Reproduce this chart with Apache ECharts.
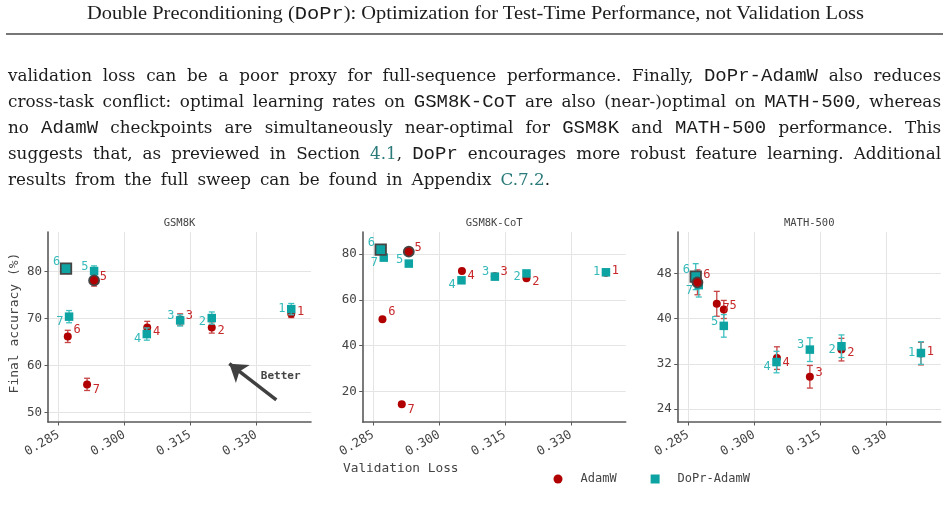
<!DOCTYPE html>
<html>
<head>
<meta charset="utf-8">
<script src="https://cdn.jsdelivr.net/npm/echarts@6/dist/echarts.min.js"></script>
<style>
  html, body { margin: 0; padding: 0; background: #fff; }
  body { width: 949px; height: 512px; position: relative; overflow: hidden; }
  #chart { position: absolute; left: 0; top: 0; width: 949px; height: 512px; }
  .txt { position: absolute; font-family: 'DejaVu Serif', serif; color: #1c1c1c; white-space: nowrap; transform-origin: 0 0; }
  .tt { font-family: 'Liberation Mono', monospace; letter-spacing: 0; }
  .ref { color: #2b7a7a; }
  #head { top: 3px; left: 87px; font-family: 'Liberation Serif', serif; font-size: 18px; line-height: 20px; }
  #rule { position: absolute; left: 6px; top: 33px; width: 937px; height: 1.5px; background: #777; }
  .ln { left: 8px; font-size: 16.8px; line-height: 26px; }
  .ln .tt { font-size: 19px; }
</style>
</head>
<body>
<div id="chart"></div>
<div class="txt" id="head">Double Preconditioning (<span class="tt">DoPr</span>): Optimization for Test-Time Performance, not Validation Loss</div>
<div id="rule"></div>
<div class="txt ln" style="top:62px" data-w="933">validation loss can be a poor proxy for full-sequence performance. Finally, <span class="tt">DoPr-AdamW</span> also reduces</div>
<div class="txt ln" style="top:88px" data-w="933">cross-task conflict: optimal learning rates on <span class="tt">GSM8K-CoT</span> are also (near-)optimal on <span class="tt">MATH-500</span>, whereas</div>
<div class="txt ln" style="top:114px" data-w="933">no <span class="tt">AdamW</span> checkpoints are simultaneously near-optimal for <span class="tt">GSM8K</span> and <span class="tt">MATH-500</span> performance. This</div>
<div class="txt ln" style="top:140px" data-w="933">suggests that, as previewed in Section <span class="ref">4.1</span>, <span class="tt">DoPr</span> encourages more robust feature learning. Additional</div>
<div class="txt ln" style="top:166px" data-w="542">results from the full sweep can be found in Appendix <span class="ref">C.7.2</span>.</div>

<script>
// checkpoint ids (learning-rate sweep points)
const checkpoints = ['1', '2', '3', '4', '5', '6', '7'];

// validation loss per checkpoint (x)
const lossAdamW = [0.3380, 0.3199, 0.3127, 0.3052, 0.2931, 0.2871, 0.2915];
const lossDoPr = [0.3380, 0.3199, 0.3127, 0.3051, 0.2931, 0.2867, 0.2874];

// GSM8K
const gsm8kAdamW = [71.0, 68.1, 69.8, 68.1, 78.1, 66.2, 56.0];
const gsm8kAdamWErr = [0.8, 1.2, 1.2, 1.3, 1.2, 1.3, 1.3];
const gsm8kDoPr = [72.0, 70.1, 69.6, 66.7, 80.1, 80.6, 70.4];
const gsm8kDoPrErr = [1.2, 1.3, 1.2, 1.3, 1.1, 1.0, 1.3];

// GSM8K-CoT
const cotAdamW = [71.8, 69.4, 70.3, 72.6, 81.0, 51.5, 14.4];
const cotDoPr = [72.0, 71.5, 70.1, 68.5, 75.8, 81.9, 78.4];

// MATH-500
const mathAdamW = [33.8, 34.5, 29.7, 33.0, 41.6, 46.4, 42.6];
const mathAdamWErr = [2.0, 2.0, 2.0, 2.0, 1.6, 2.2, 2.2];
const mathDoPr = [33.9, 35.1, 34.5, 32.3, 38.7, 47.4, 45.9];
const mathDoPrErr = [2.0, 2.0, 2.1, 1.9, 2.0, 2.3, 2.1];

// best checkpoint (index) per panel
const bestAdamW = [4, 4, 5];
const bestDoPr = [5, 5, 5];

// tick labels
const xTicks = [0.285, 0.300, 0.315, 0.330];
const gsm8kTicks = [50, 60, 70, 80];
const cotTicks = [20, 40, 60, 80];
const mathTicks = [24, 32, 40, 48];

// ---- style / layout ----
const MONO = 'DejaVu Sans Mono';
const RED = '#b00000';
const RED_TXT = '#c8282a';
const RED_ERR = '#c64444';
const TEAL = '#0ea3a3';
const TEAL_TXT = '#35b9b9';
const TEAL_ERR = '#3fc0c0';
const AXIS = '#5a5a5a';
const GRID_LEFT = [48, 362.7, 677.7];
const GRID_TOP = 232, GRID_W = 263, GRID_H = 190;
const LABEL_DX = 9.3;
const labelDyAdamW = [-2, 3.5, -4, 4.7, -3.5, -7, 5.3];
const labelDyDoPr = [0, 3.7, -4.7, 4.5, -3.8, -6.5, 5.6];

const panels = [
  { title: 'GSM8K', adamw: gsm8kAdamW, adamwErr: gsm8kAdamWErr, dopr: gsm8kDoPr, doprErr: gsm8kDoPrErr, yTicks: gsm8kTicks, yMin: 48, yMax: 88.4 },
  { title: 'GSM8K-CoT', adamw: cotAdamW, adamwErr: null, dopr: cotDoPr, doprErr: null, yTicks: cotTicks, yMin: 6.6, yMax: 89.6 },
  { title: 'MATH-500', adamw: mathAdamW, adamwErr: mathAdamWErr, dopr: mathDoPr, doprErr: mathDoPrErr, yTicks: mathTicks, yMin: 21.7, yMax: 55.3 }
];

const errBar = color => (params, api) => {
  const x = api.value(0), y = api.value(1), e = api.value(2);
  const p1 = api.coord([x, y + e]);
  const p2 = api.coord([x, y - e]);
  const style = { stroke: color, lineWidth: 1.3 };
  return {
    type: 'group',
    children: [
      { type: 'line', shape: { x1: p1[0], y1: p1[1], x2: p2[0], y2: p2[1] }, style },
      { type: 'line', shape: { x1: p1[0] - 3, y1: p1[1], x2: p1[0] + 3, y2: p1[1] }, style },
      { type: 'line', shape: { x1: p2[0] - 3, y1: p2[1], x2: p2[0] + 3, y2: p2[1] }, style }
    ]
  };
};

const grids = [], xAxes = [], yAxes = [], series = [], graphics = [];

panels.forEach((p, i) => {
  grids.push({ left: GRID_LEFT[i], top: GRID_TOP, width: GRID_W, height: GRID_H });

  xAxes.push({
    type: 'value', gridIndex: i, min: 0.2826, max: 0.3425,
    axisLine: { show: true, lineStyle: { color: AXIS, width: 1.6 } },
    axisTick: { show: true, length: 3.5, customValues: xTicks, lineStyle: { color: AXIS } },
    axisLabel: {
      customValues: xTicks, rotate: 30, margin: 12, color: '#444',
      fontFamily: MONO, fontSize: 12.5, formatter: v => v.toFixed(3)
    },
    splitLine: { show: true, lineStyle: { color: '#e4e4e4', width: 1 } }
  });

  yAxes.push({
    type: 'value', gridIndex: i, min: p.yMin, max: p.yMax,
    axisLine: { show: true, lineStyle: { color: AXIS, width: 1.6 } },
    axisTick: { show: true, length: 3.5, customValues: p.yTicks, lineStyle: { color: AXIS } },
    axisLabel: { customValues: p.yTicks, margin: 6, color: '#444', fontFamily: MONO, fontSize: 12.5 },
    splitLine: { show: true, lineStyle: { color: '#e4e4e4', width: 1 } }
  });

  const groups = [
    { name: 'AdamW', xs: lossAdamW, ys: p.adamw, err: p.adamwErr, color: RED, txt: RED_TXT, errColor: RED_ERR,
      symbol: 'circle', size: 8, dx: LABEL_DX, dy: labelDyAdamW, best: bestAdamW[i], z: 1 },
    { name: 'DoPr-AdamW', xs: lossDoPr, ys: p.dopr, err: p.doprErr, color: TEAL, txt: TEAL_TXT, errColor: TEAL_ERR,
      symbol: 'rect', size: 8.5, dx: -LABEL_DX, dy: labelDyDoPr, best: bestDoPr[i], z: 3 }
  ];

  groups.forEach(g => {
    if (g.err) {
      series.push({
        type: 'custom', name: g.name + '-err-' + i, xAxisIndex: i, yAxisIndex: i,
        renderItem: errBar(g.errColor), encode: { x: 0, y: 1 }, silent: true, z: g.z,
        data: g.ys.map((y, k) => [g.xs[k], y, g.err[k]])
      });
    }
    series.push({
      type: 'scatter', name: g.name, xAxisIndex: i, yAxisIndex: i,
      symbol: g.symbol, symbolSize: g.size, itemStyle: { color: g.color, opacity: 1 }, z: g.z + 1,
      emphasis: { disabled: true },
      label: {
        show: true, position: 'inside', color: g.txt, fontFamily: MONO, fontSize: 12,
        formatter: q => checkpoints[q.dataIndex]
      },
      data: g.ys.map((y, k) => ({ value: [g.xs[k], y], label: { offset: [g.dx, g.dy[k]] } }))
    });
  });

  // highlighted best checkpoints, drawn on top
  [groups[1], groups[0]].forEach((g, j) => {
    series.push({
      type: 'scatter', name: g.name, xAxisIndex: i, yAxisIndex: i,
      symbol: g.symbol, symbolSize: g.symbol === 'rect' ? 10.5 : 10,
      itemStyle: { color: g.color, borderColor: '#454545', borderWidth: 1.8, opacity: 1 },
      z: 6 + j, emphasis: { disabled: true }, silent: true,
      data: [[g.xs[g.best], g.ys[g.best]]]
    });
  });

  graphics.push({
    type: 'text', x: GRID_LEFT[i] + GRID_W / 2, y: 223,
    style: { text: p.title, fill: '#444', font: '10.5px ' + MONO, align: 'center', verticalAlign: 'middle' }
  });
});

// "Better" arrow on GSM8K panel
series.push({
  type: 'scatter', name: 'annotation', xAxisIndex: 0, yAxisIndex: 0, data: [], z: 8, silent: true,
  markLine: {
    silent: true, symbol: ['none', 'arrow'], symbolSize: 17, animation: false,
    lineStyle: { color: '#404040', width: 3.5, type: 'solid' },
    label: { show: false }, emphasis: { disabled: true },
    data: [[{ coord: [0.3346, 52.7] }, { coord: [0.3239, 60.4] }]]
  },
  markPoint: {
    silent: true, symbol: 'circle', symbolSize: 1, itemStyle: { color: 'rgba(0,0,0,0)' },
    label: { show: true, position: 'inside', formatter: 'Better', color: '#444', fontFamily: MONO, fontSize: 11, fontWeight: 'bold' },
    data: [{ coord: [0.3356, 57.8] }]
  }
});

graphics.push({
  type: 'text', x: 15, y: 323, rotation: Math.PI / 2,
  style: { text: 'Final accuracy (%)', fill: '#444', font: '13px ' + MONO, align: 'center', verticalAlign: 'middle' }
});
graphics.push({
  type: 'text', x: 343, y: 469,
  style: { text: 'Validation Loss', fill: '#444', font: '12.8px ' + MONO, align: 'left', verticalAlign: 'middle' }
});

const chart = echarts.init(document.getElementById('chart'), null, { renderer: 'canvas' });
chart.setOption({
  animation: false,
  backgroundColor: 'transparent',
  grid: grids,
  xAxis: xAxes,
  yAxis: yAxes,
  legend: {
    left: 548.5, top: 468, itemWidth: 9, itemHeight: 9, itemGap: 34,
    selectedMode: false,
    textStyle: { fontFamily: MONO, fontSize: 12, color: '#444', padding: [0, 0, 0, 13] },
    data: [{ name: 'AdamW', icon: 'circle' }, { name: 'DoPr-AdamW', icon: 'rect' }]
  },
  graphic: graphics,
  series: series
});

// justify the paper text lines to the measured widths
function fitLine(el, target, justify) {
  el.style.wordSpacing = '0px';
  el.style.transform = '';
  const w = el.getBoundingClientRect().width;
  const gaps = (el.textContent.match(/ /g) || []).length;
  if (justify && w < target && gaps) {
    el.style.wordSpacing = ((target - w) / gaps).toFixed(3) + 'px';
  } else {
    el.style.transform = 'scaleX(' + (target / w).toFixed(4) + ')';
  }
}
fitLine(document.getElementById('head'), 777, false);
document.querySelectorAll('.ln').forEach(el => fitLine(el, +el.dataset.w, true));
</script>
</body>
</html>
